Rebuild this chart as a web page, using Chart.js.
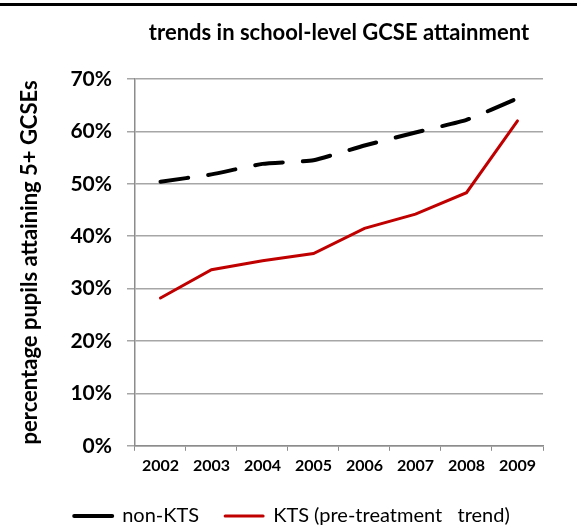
<!DOCTYPE html>
<html>
<head>
<meta charset="utf-8">
<script src="https://cdn.jsdelivr.net/npm/chart.js@4/dist/chart.umd.min.js"></script>
<style>
  html, body { margin: 0; padding: 0; background: #fff; }
  #wrap { width: 577px; height: 530px; position: relative; }
</style>
</head>
<body>
<div id="wrap"><canvas id="chart"></canvas></div>
<script>
const years = ["2002", "2003", "2004", "2005", "2006", "2007", "2008", "2009"];
const nonKts = [50.4, 51.8, 53.8, 54.5, 57.3, 59.8, 62.2, 66.3];
const kts = [28.2, 33.6, 35.3, 36.7, 41.5, 44.2, 48.3, 62.0];

const FONT = "Lato, 'Noto Sans', sans-serif";

// thick black rule along the top edge of the picture
const topRule = {
  id: "topRule",
  beforeDraw(chart) {
    const ctx = chart.ctx;
    ctx.save();
    ctx.fillStyle = "#000";
    ctx.fillRect(0, 3, chart.width, 3);
    ctx.restore();
  }
};

const ctx = document.getElementById("chart").getContext("2d");

new Chart(ctx, {
  type: "line",
  data: {
    labels: years,
    datasets: [
      {
        label: "non-KTS",
        data: nonKts,
        borderColor: "#000000",
        borderWidth: 4,
        borderDash: [28, 20],
        borderCapStyle: "round",
        pointRadius: 0,
        tension: 0.15
      },
      {
        label: "KTS (pre-treatment   trend)",
        data: kts,
        borderColor: "#c00000",
        borderWidth: 3,
        borderCapStyle: "round",
        pointRadius: 0,
        tension: 0
      }
    ]
  },
  options: {
    responsive: true,
    maintainAspectRatio: false,
    animation: false,
    layout: { padding: { top: 5, left: 11, right: 4, bottom: -6 } },
    plugins: {
      title: {
        display: true,
        text: "trends in school-level GCSE attainment",
        fullSize: false,
        color: "#000",
        font: { family: FONT, size: 22, weight: "bold" },
        padding: { top: 14.8, bottom: 32.8 }
      },
      legend: {
        position: "bottom",
        labels: {
          color: "#000",
          font: { family: FONT, size: 20 },
          usePointStyle: true,
          pointStyleWidth: 38,
          boxWidth: 38,
          boxHeight: 18,
          padding: 26,
          generateLabels(chart) {
            // solid line samples, as in the original legend
            return chart.data.datasets.map((ds, i) => ({
              text: ds.label,
              fillStyle: ds.borderColor,
              strokeStyle: ds.borderColor,
              lineWidth: ds.borderWidth,
              lineDash: [],
              lineCap: "round",
              pointStyle: "line",
              fontColor: "#000",
              hidden: false,
              datasetIndex: i
            }));
          }
        }
      },
      tooltip: { enabled: false }
    },
    scales: {
      x: {
        offset: true,
        grid: {
          offset: true,
          drawOnChartArea: false,
          color: "#8c8c8c",
          lineWidth: 1,
          tickLength: 5
        },
        border: { color: "#8c8c8c", width: 1.5 },
        ticks: {
          color: "#000",
          padding: 5,
          maxRotation: 0,
          font: { family: FONT, size: 16, weight: "bold" }
        }
      },
      y: {
        min: 0,
        max: 70,
        grid: {
          color: "#a6a6a6",
          lineWidth: 1.5,
          tickLength: 8
        },
        border: { color: "#8c8c8c", width: 1.5 },
        ticks: {
          stepSize: 10,
          color: "#000",
          padding: 15,
          font: { family: FONT, size: 21, weight: "bold" },
          callback: v => v + "%"
        },
        title: {
          display: true,
          text: "percentage pupils attaining 5+ GCSEs",
          color: "#000",
          font: { family: FONT, size: 22, weight: "bold" },
          padding: { top: 5.8, bottom: 12.2 }
        }
      },
      // empty right-hand gutter so the legend stays centred on the page
      y2: {
        position: "right",
        min: 0,
        max: 70,
        grid: { drawOnChartArea: false, drawTicks: false },
        border: { display: false },
        ticks: { display: false },
        afterFit: s => { s.width = 30; }
      }
    }
  },
  plugins: [topRule]
});
</script>
</body>
</html>
